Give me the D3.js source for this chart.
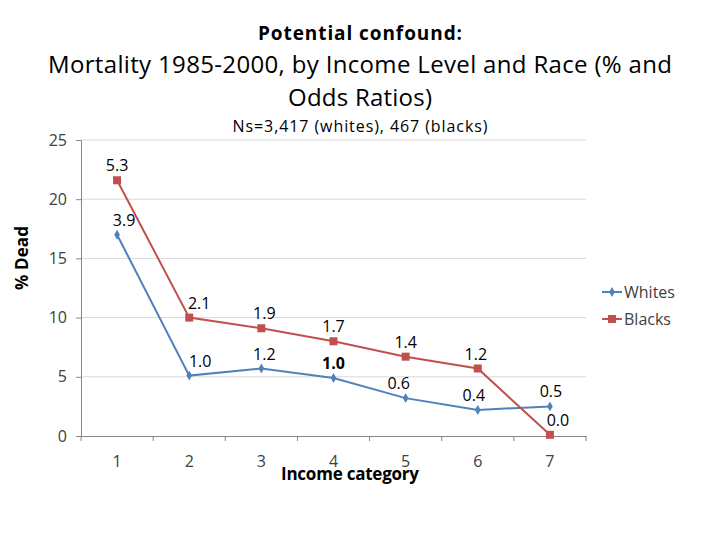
<!doctype html>
<html>
  <head>
    <meta charset="utf-8">
    <title>Mortality by income and race</title>
    <script src="https://d3js.org/d3.v7.min.js"></script>
    <style type="text/css">
      body { margin: 0; background-color: #ffffff; }
      text { font-family: "Open Sans", "Noto Sans", sans-serif; }
    </style>
  </head>
  <body>
    <script>
      // data
      var categories = ["1", "2", "3", "4", "5", "6", "7"];
      var seriesNames = ["Whites", "Blacks"];
      var whites = [17.0, 5.1, 5.7, 4.9, 3.2, 2.2, 2.5];
      var blacks = [21.6, 10.0, 9.1, 8.0, 6.7, 5.7, 0.1];
      var whiteLabels = ["3.9", "1.0", "1.2", "1.0", "0.6", "0.4", "0.5"];
      var blackLabels = ["5.3", "2.1", "1.9", "1.7", "1.4", "1.2", "0.0"];
      var yTicks = [0, 5, 10, 15, 20, 25];

      var w = 720, h = 540;
      var colors = { Whites: "#4f81bd", Blacks: "#c0504d" };
      // label nudges (px, right of the point) as placed in the original
      var whiteShift = [7, 11, 3, 0, -7, -4, 1];
      var blackShift = [0, 10, 3, 0, 0, -2, 8];

      var svg = d3.select("body").append("svg")
        .attr("width", w)
        .attr("height", h);

      // titles
      svg.append("text").attr("x", 360).attr("y", 40)
        .attr("text-anchor", "middle").style("font-size", "19px").style("font-weight", "bold")
        .attr("textLength", 204).text("Potential confound:");
      svg.append("text").attr("x", 360).attr("y", 73)
        .attr("text-anchor", "middle").style("font-size", "24px")
        .attr("textLength", 624).text("Mortality 1985-2000, by Income Level and Race (% and");
      svg.append("text").attr("x", 360).attr("y", 106)
        .attr("text-anchor", "middle").style("font-size", "24px")
        .attr("textLength", 144).text("Odds Ratios)");
      svg.append("text").attr("x", 360).attr("y", 132)
        .attr("text-anchor", "middle").style("font-size", "16px")
        .attr("textLength", 255).text("Ns=3,417 (whites), 467 (blacks)");

      // scales
      var x = d3.scaleBand().domain(categories).range([81, 586]);
      var y = d3.scaleLinear().domain([0, 25]).range([436, 140]);

      // gridlines
      svg.append("g").selectAll("line")
        .data(yTicks.slice(1))
        .enter().append("line")
        .attr("x1", 81).attr("x2", 586)
        .attr("y1", function(d) { return y(d); })
        .attr("y2", function(d) { return y(d); })
        .style("stroke", "#d9d9d9");

      // y axis
      var yAxis = svg.append("g")
        .attr("transform", "translate(81,0)")
        .call(d3.axisLeft(y).tickValues(yTicks).tickSize(5).tickPadding(9));
      yAxis.select(".domain").style("stroke", "#868686");
      yAxis.selectAll(".tick line").style("stroke", "#868686");
      yAxis.selectAll("text").style("font-size", "16px").style("fill", "#404040")
        .style("font-family", "Open Sans, sans-serif");

      // x axis
      var xAxis = svg.append("g")
        .attr("transform", "translate(0,436)")
        .call(d3.axisBottom(x).tickSize(0).tickPadding(20));
      xAxis.select(".domain").style("stroke", "#868686");
      xAxis.selectAll("text").style("font-size", "16px").style("fill", "#404040")
        .style("font-family", "Open Sans, sans-serif");
      // category separator ticks
      xAxis.selectAll(".sep")
        .data(categories.concat(["end"]))
        .enter().append("line")
        .attr("x1", function(d, i) { return 81 + i * x.step(); })
        .attr("x2", function(d, i) { return 81 + i * x.step(); })
        .attr("y1", 0).attr("y2", 5)
        .style("stroke", "#868686");

      // axis titles
      svg.append("text")
        .attr("transform", "translate(28,258) rotate(-90)")
        .attr("text-anchor", "middle").style("font-size", "17px").style("font-weight", "bold")
        .attr("textLength", 64).text("% Dead");
      svg.append("text").attr("x", 350).attr("y", 480)
        .attr("text-anchor", "middle").style("font-size", "17px").style("font-weight", "bold")
        .attr("textLength", 138).text("Income category");

      var line = d3.line()
        .x(function(d, i) { return x(categories[i]) + x.bandwidth() / 2; })
        .y(function(d) { return y(d); });

      var series = [
        { name: "Whites", values: whites, labels: whiteLabels, shift: whiteShift },
        { name: "Blacks", values: blacks, labels: blackLabels, shift: blackShift }
      ];

      series.forEach(function(s) {
        svg.append("path")
          .datum(s.values)
          .attr("d", line)
          .style("fill", "none")
          .style("stroke", colors[s.name])
          .style("stroke-width", 2);

        var pts = svg.append("g").selectAll(".pt")
          .data(s.values).enter();
        if (s.name === "Whites") {
          pts.append("path")
            .attr("d", d3.symbol().type(d3.symbolDiamond).size(28))
            .attr("transform", function(d, i) {
              return "translate(" + (x(categories[i]) + x.bandwidth() / 2) + "," + y(d) + ")";
            })
            .style("fill", colors[s.name]);
        } else {
          pts.append("rect")
            .attr("x", function(d, i) { return x(categories[i]) + x.bandwidth() / 2 - 4; })
            .attr("y", function(d) { return y(d) - 4; })
            .attr("width", 8).attr("height", 8)
            .style("fill", colors[s.name]);
        }

        svg.append("g").selectAll(".lbl")
          .data(s.values).enter().append("text")
          .attr("x", function(d, i) { return x(categories[i]) + x.bandwidth() / 2 + s.shift[i]; })
          .attr("y", function(d) { return y(d) - 9; })
          .attr("text-anchor", "middle")
          .style("font-size", "16px")
          .style("fill", "#000")
          .style("font-weight", function(d, i) { return (s.name === "Whites" && i === 3) ? "bold" : "normal"; })
          .text(function(d, i) { return s.labels[i]; });
      });

      // legend
      var legend = svg.append("g").selectAll(".leg")
        .data(seriesNames).enter().append("g")
        .attr("transform", function(d, i) { return "translate(602," + (292 + i * 27) + ")"; });
      legend.append("line")
        .attr("x1", 0).attr("x2", 20)
        .style("stroke", function(d) { return colors[d]; })
        .style("stroke-width", 2);
      legend.append("path")
        .attr("d", function(d) {
          return d === "Whites" ? d3.symbol().type(d3.symbolDiamond).size(28)() : "M-4,-4h8v8h-8z";
        })
        .attr("transform", "translate(10,0)")
        .style("fill", function(d) { return colors[d]; });
      legend.append("text")
        .attr("x", 22).attr("y", 6)
        .style("font-size", "16px").style("fill", "#404040")
        .text(function(d) { return d; });
    </script>
  </body>
</html>
